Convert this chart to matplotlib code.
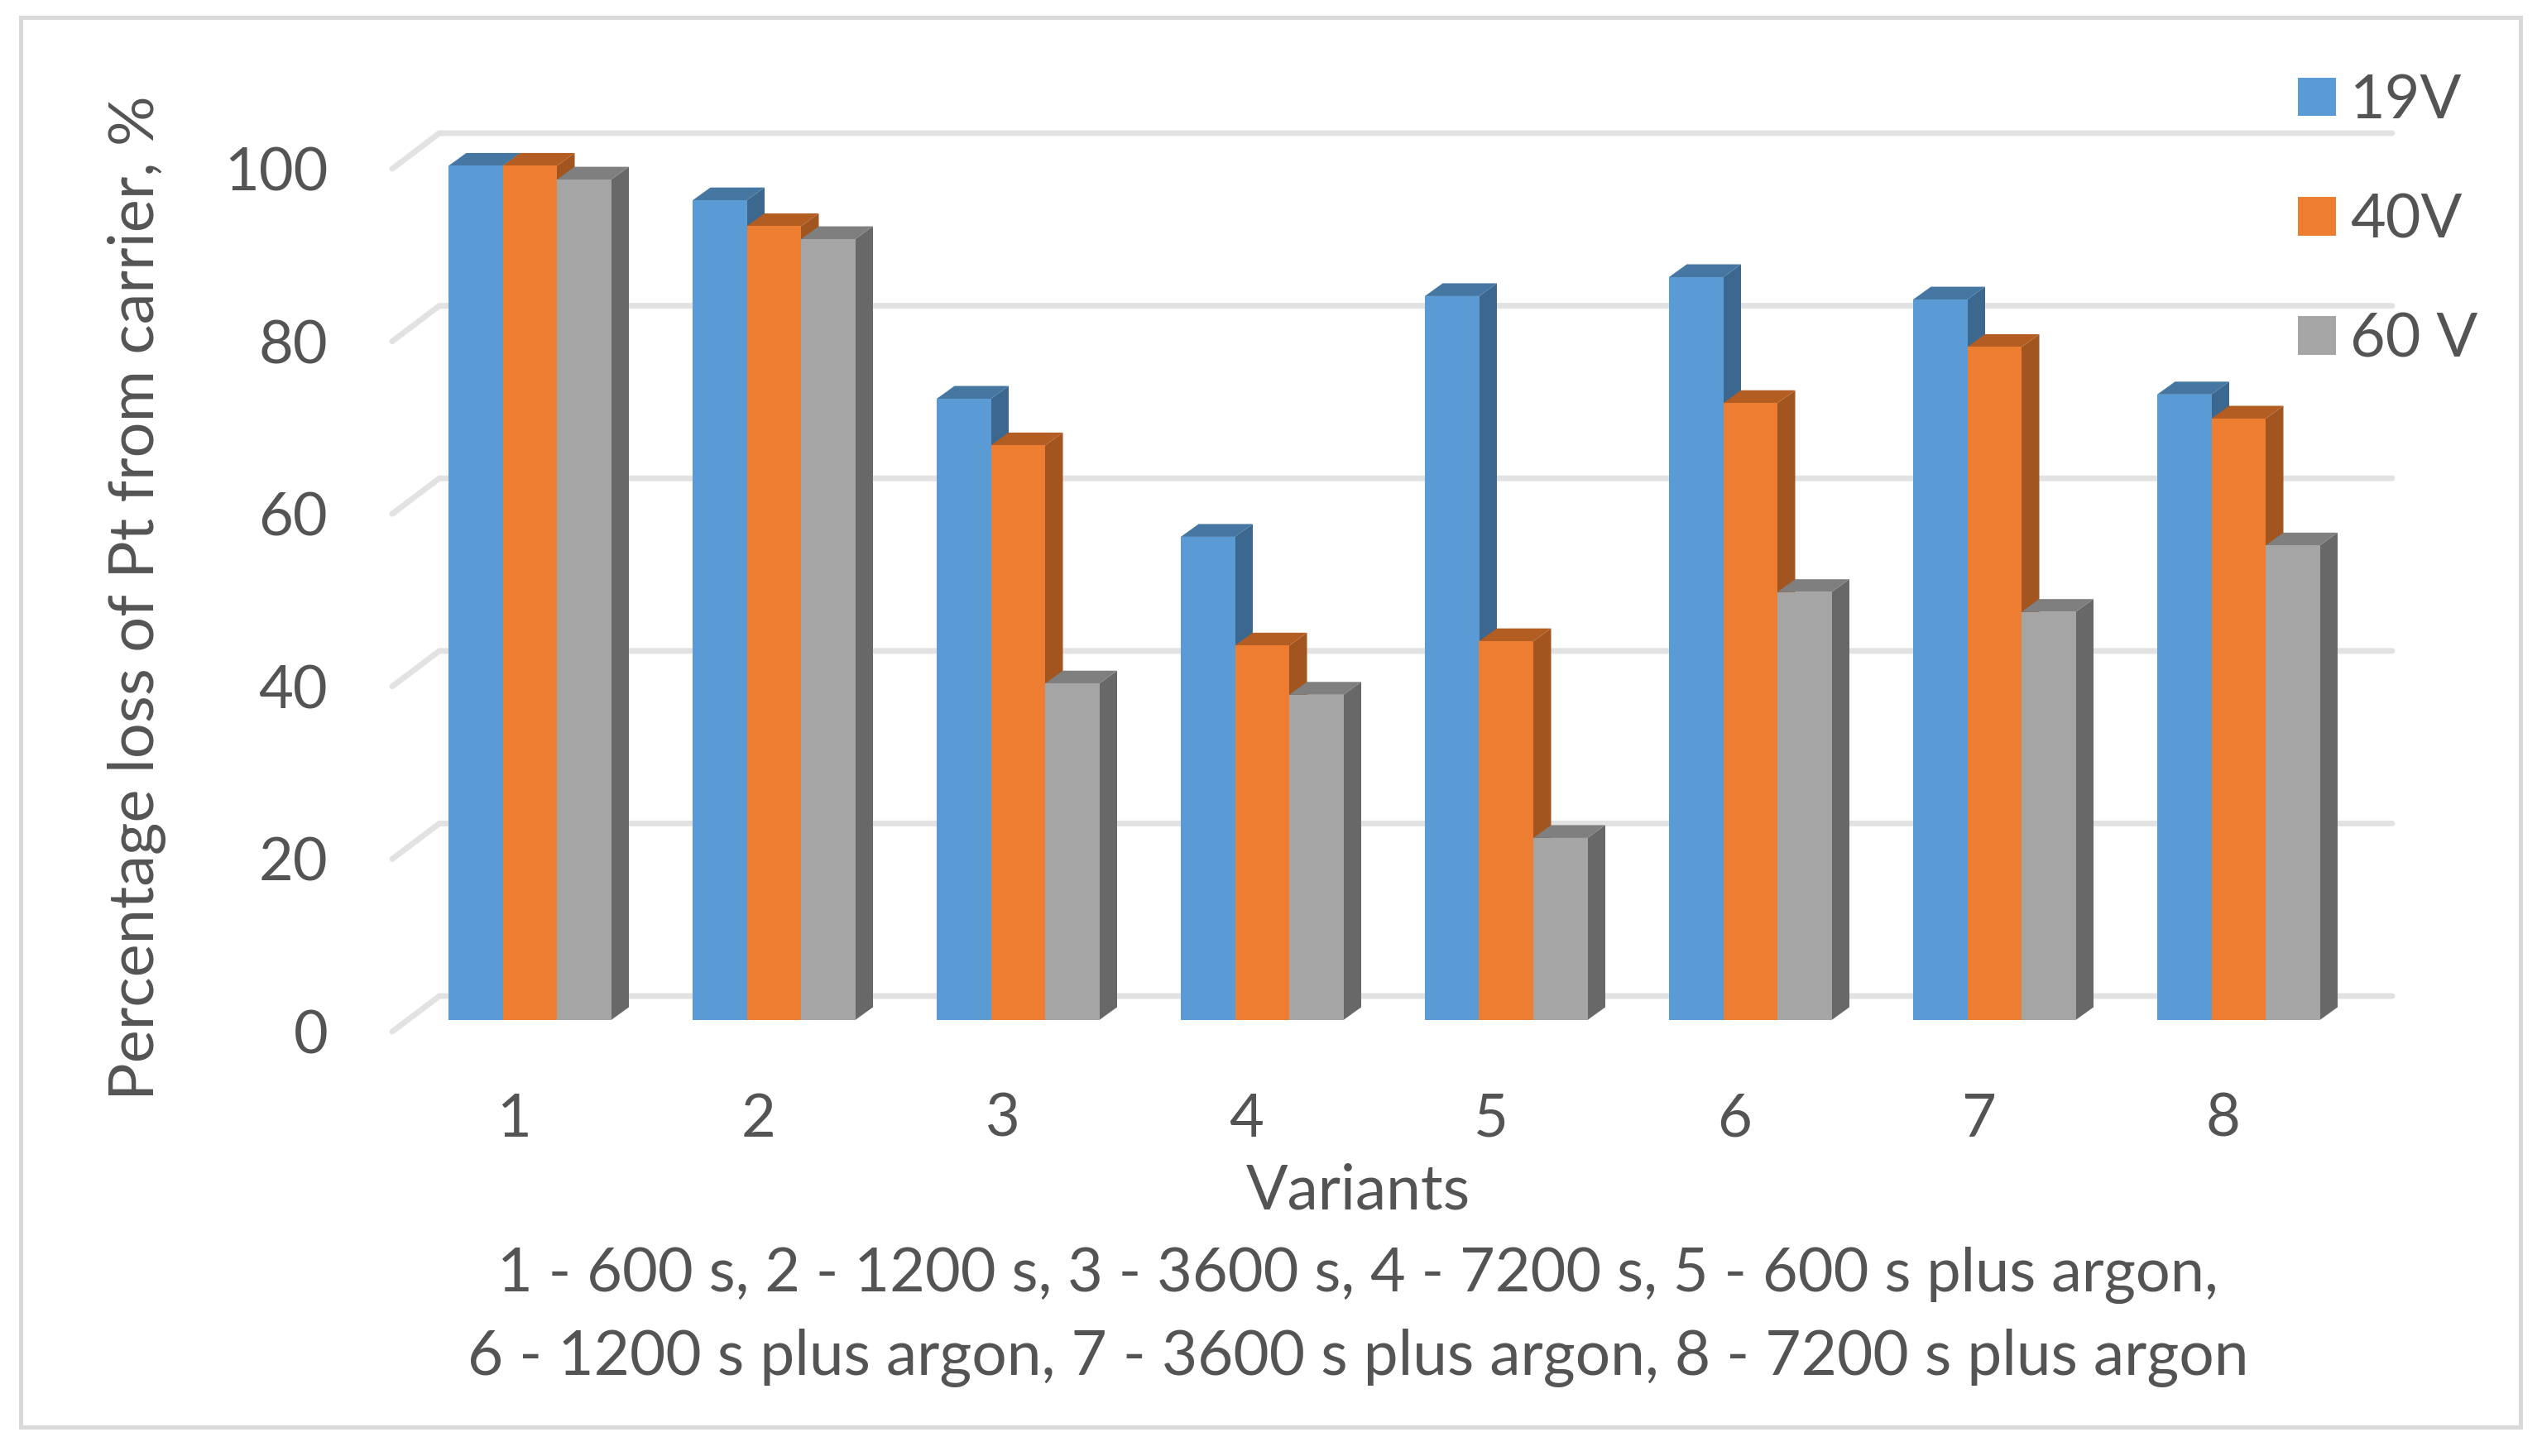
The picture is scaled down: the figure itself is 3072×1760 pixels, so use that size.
import matplotlib
matplotlib.use("Agg")
import matplotlib.pyplot as plt
from matplotlib.patches import Rectangle, Patch

W, H = 3072, 1760
DPI = 200

variants = ["1", "2", "3", "4", "5", "6", "7", "8"]
v19 = [99.0, 95.0, 72.0, 56.0, 83.9, 86.1, 83.5, 72.5]
v40 = [99.0, 92.0, 66.6, 43.4, 43.9, 71.5, 78.0, 69.7]
v60 = [97.4, 90.5, 39.0, 37.7, 21.1, 49.6, 47.3, 55.0]
series_names = ["19V", "40V", "60 V"]
y_ticks = [0, 20, 40, 60, 80, 100]
front_cols = ["#5B9BD5", "#ED7D31", "#A5A5A5"]
top_cols = ["#4676A2", "#B45D23", "#7F7F7F"]
side_cols = ["#3C678E", "#A35520", "#686868"]
TXT = "#545454"
GRID = "#E2E2E2"
FRAME = "#D9D9D9"

plt.rcParams["font.family"] = ["Lato", "DejaVu Sans"]
FS = 26.0
FS_LAB = 26.9

fig = plt.figure(figsize=(W / DPI, H / DPI), dpi=DPI, facecolor="white")
L, R, T, B = 474, 2834, 204, 1247
ax = fig.add_axes([L / W, 1 - B / H, (R - L) / W, (B - T) / H])
ax.set_xlim(0, 8)
ax.set_ylim(0, 100)
ax.patch.set_visible(False)
for s in ax.spines.values():
    s.set_visible(False)

ux = (R - L) / 8      # px per category
uy = (B - T) / 100    # px per value unit
wall_dx, wall_dy = 57 / ux, 43 / uy
off_dx, off_dy = 18.75 / ux, 14 / uy
bar_dx, bar_dy = 21.5 / ux, 15.5 / uy
bar_w = 65.5 / ux

# walls: diagonal tick plus back gridline
for v in y_ticks:
    ax.plot([0, wall_dx, 8 + wall_dx], [v, v + wall_dy, v + wall_dy], color=GRID,
            lw=2.5, clip_on=False, zorder=1, solid_capstyle="round", solid_joinstyle="miter")

# bars
series = [v19, v40, v60]
for g in range(len(variants)):
    centre = g + 0.5 + off_dx
    for k, vals in enumerate(series):
        x0 = centre + (k - 1.5) * bar_w
        x1 = x0 + bar_w
        v = vals[g]
        z = 3 + g + k * 0.1
        ax.fill([x1, x1 + bar_dx, x1 + bar_dx, x1],
                [off_dy, off_dy + bar_dy, off_dy + v + bar_dy, off_dy + v],
                color=side_cols[k], lw=0, clip_on=False, zorder=z)
        ax.fill([x0, x0 + bar_dx, x1 + bar_dx, x1],
                [off_dy + v, off_dy + v + bar_dy, off_dy + v + bar_dy, off_dy + v],
                color=top_cols[k], lw=0, clip_on=False, zorder=z)
        ax.bar(x0, v, width=bar_w, bottom=off_dy, align="edge", color=front_cols[k],
               lw=0, clip_on=False, zorder=z + 0.01)

ax.set_xticks([i + 0.5 for i in range(8)], variants)
ax.set_yticks(y_ticks)
ax.tick_params(axis="both", length=0, labelsize=FS, labelcolor=TXT)
ax.tick_params(axis="x", pad=26.5)
ax.tick_params(axis="y", pad=28)

ax.set_xlabel("Variants", fontsize=FS_LAB, color=TXT, va="center")
ax.xaxis.set_label_coords((1641 - L) / (R - L), (B - 1440) / (B - T))
ax.set_ylabel("Percentage loss of Pt from carrier, %", fontsize=27.3, color=TXT, va="center")
ax.yaxis.set_label_coords((166 - L) / (R - L), (B - 723) / (B - T))

fig.text(1641 / W, 1 - 1541 / H, "1 - 600 s, 2 - 1200 s, 3 - 3600 s, 4 - 7200 s, 5 - 600 s plus argon,",
         ha="center", va="center", fontsize=26.55, color=TXT)
fig.text(1641 / W, 1 - 1641 / H, "6 - 1200 s plus argon, 7 - 3600 s plus argon, 8 - 7200 s plus argon",
         ha="center", va="center", fontsize=FS_LAB, color=TXT)

handles = [Patch(facecolor=c, lw=0) for c in front_cols]
FS_LEG = 26.5
fs_px = FS_LEG * DPI / 72
fig.legend(handles, series_names, frameon=False, fontsize=FS_LEG, labelcolor=TXT,
           loc="upper left", bbox_to_anchor=(2777 / W, 1 - 89 / H), borderaxespad=0, borderpad=0,
           handlelength=46 / fs_px, handleheight=44 / fs_px, handletextpad=17 / fs_px,
           labelspacing=1.05)

fig.add_artist(Rectangle((25 / W, 1 - 1725 / H), (3046 - 25) / W, (1725 - 21) / H,
                         transform=fig.transFigure, fill=False, ec=FRAME, lw=1.8))

fig.savefig("out.png", dpi=DPI, facecolor="white")
